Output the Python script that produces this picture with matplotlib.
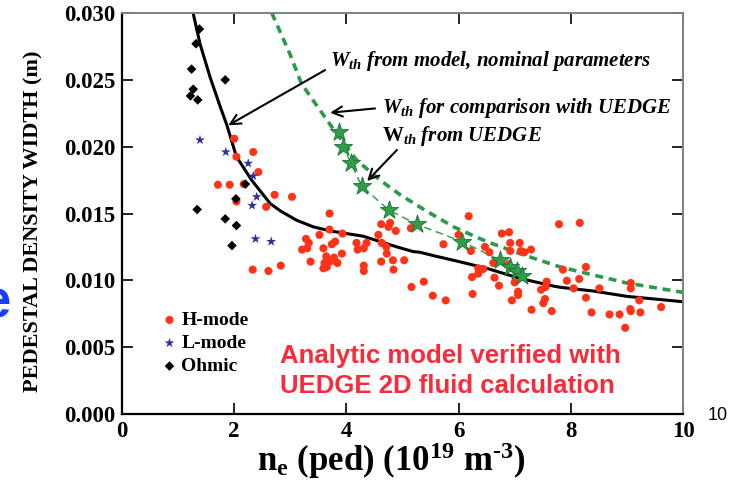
import numpy as np
import matplotlib
matplotlib.use('Agg')
import matplotlib.pyplot as plt

plt.rcParams['font.family'] = ['Liberation Serif', 'DejaVu Serif']
plt.rcParams['font.weight'] = 'bold'
plt.rcParams['mathtext.fontset'] = 'custom'
plt.rcParams['mathtext.rm'] = 'Liberation Serif:bold'
plt.rcParams['mathtext.it'] = 'Liberation Serif:italic:bold'
plt.rcParams['mathtext.bf'] = 'Liberation Serif:bold'

# ---- data (x in 1e19 m^-3, y in mm -> scaled to m below)
hmode_x = [2.00, 2.34, 2.04, 2.43, 1.71, 1.92, 2.17, 2.72, 3.03, 2.04, 2.57, 3.70, 3.28, 3.33, 3.30,
           3.21, 3.52, 3.59, 3.64, 3.36, 3.61, 3.65, 2.33, 2.61, 2.83,
           3.70, 3.93, 3.80, 3.74, 3.92, 3.78, 3.71, 3.59, 3.84, 4.18, 4.36, 4.20, 4.31, 4.57, 4.63,
           4.71, 4.72, 4.62, 4.83, 5.03, 4.31, 4.31, 4.84, 4.62, 4.78, 4.75, 4.88, 5.15, 5.16, 5.38, 5.54,
           6.18, 7.79, 6.00, 6.77, 6.90, 5.73, 6.47, 6.92, 7.09, 6.22, 6.55, 6.92, 7.11, 7.17, 7.29,
           6.62, 6.89, 6.35, 6.44, 6.35, 6.24, 6.64, 6.72, 7.00, 7.57, 7.93, 7.47, 7.06, 7.06, 6.25,
           7.54, 7.51, 6.95, 5.77, 7.30, 7.66, 8.16, 7.55,
           8.27, 7.86, 8.15, 8.05, 8.51, 9.07, 9.07, 8.27, 9.22, 8.37, 8.69, 8.87, 9.06, 9.07, 9.24,
           9.61, 8.97]
hmode_y = [20.6, 19.6, 19.25, 18.1, 17.15, 17.15, 17.2, 16.4, 16.25, 15.9, 15.5, 15.0, 13.1, 12.8, 12.4,
           12.3, 13.4, 12.4, 11.8, 11.4, 11.3, 11.0, 10.8, 10.7, 11.1,
           13.8, 13.5, 12.9, 12.7, 12.0, 11.7, 11.4, 10.9, 11.3, 12.8, 12.8, 12.3, 12.4, 13.4, 12.8,
           12.5, 12.0, 11.4, 11.5, 11.5, 11.1, 10.7, 10.8, 14.2, 14.3, 14.0, 13.7, 13.9, 9.5, 9.9, 8.85,
           14.8, 14.2, 13.4, 13.5, 13.6, 12.7, 12.5, 12.8, 12.8, 12.2, 12.1, 12.2, 12.2, 12.1, 12.3,
           11.3, 11.2, 10.9, 10.85, 10.5, 10.25, 10.2, 9.6, 9.85, 9.9, 9.97, 9.3, 9.15, 8.9, 8.98,
           8.6, 8.3, 8.5, 8.5, 7.8, 7.7, 14.3, 9.5,
           11.0, 10.8, 10.1, 9.4, 9.4, 9.8, 9.4, 8.7, 8.5, 7.6, 7.45, 7.45, 7.85, 7.7, 7.6,
           8.0, 6.45]

lmode_x = [1.39, 1.85, 2.25, 2.34, 2.40, 2.32, 2.38, 2.66]
lmode_y = [20.5, 19.6, 18.75, 17.8, 16.25, 15.6, 13.1, 12.9]

ohmic_x = [1.38, 1.32, 1.24, 1.84, 1.27, 1.22, 1.35, 2.03, 2.20, 1.34, 1.84, 2.04, 1.96]
ohmic_y = [28.8, 27.7, 25.8, 25.0, 24.3, 23.8, 23.5, 16.1, 17.2, 15.3, 14.6, 14.1, 12.6]

uedge_x = [3.87, 3.94, 4.08, 4.27, 4.76, 5.25, 6.06, 6.74, 6.92, 7.04, 7.13]
uedge_y = [21.1, 20.0, 18.8, 17.05, 15.25, 14.2, 12.9, 11.5, 11.0, 10.7, 10.3]

model_x = [1.27, 1.39, 1.57, 1.75, 1.87, 2.04, 2.31, 2.64, 2.82, 3.11, 3.41, 3.71, 4.00, 4.30,
           4.60, 4.90, 5.19, 5.31, 5.60, 5.91, 6.50, 7.09, 7.69, 7.81, 8.40, 9.00, 10.0]
model_y = [29.96, 27.7, 25.2, 23.0, 21.6, 19.25, 17.5, 15.75, 15.2, 14.5, 14.0, 13.7, 13.5, 13.3,
           12.9, 12.5, 12.15, 12.1, 11.8, 11.5, 10.9, 10.15, 9.57, 9.48, 9.2, 8.8, 8.4]

comp_x = [2.67, 2.99, 3.20, 3.77, 4.18, 4.60, 4.96, 5.40, 5.91, 6.50, 7.09, 7.81, 8.40, 9.00, 10.0]
comp_y = [30.0, 26.97, 24.7, 21.3, 19.0, 17.5, 16.4, 15.25, 14.0, 12.9, 12.0, 11.0, 10.4, 9.8, 9.1]

xticks = [0, 2, 4, 6, 8, 10]
yticks = [0.000, 0.005, 0.010, 0.015, 0.020, 0.025, 0.030]

mm = 1e-3
fig = plt.figure(figsize=(7.38, 4.82), dpi=100)
ax = fig.add_axes([122/738, 1-414/482, 561/738, 401/482])

ax.plot(model_x, np.array(model_y)*mm, color='black', lw=2.2, zorder=2)
ax.plot(comp_x, np.array(comp_y)*mm, color='#2a9a4a', lw=2.6, dashes=(2.2, 1.6), zorder=2)
ax.plot(uedge_x, np.array(uedge_y)*mm, color='#3aa055', lw=1.1, dashes=(5, 3), zorder=2)

ax.scatter(hmode_x, np.array(hmode_y)*mm, s=34, color='#ff3318', edgecolors='none', zorder=3, label='H-mode')
ax.scatter(lmode_x, np.array(lmode_y)*mm, s=55, marker='*', color='#30309a', edgecolors='none', zorder=3, label='L-mode')
ax.scatter(ohmic_x, np.array(ohmic_y)*mm, s=24, marker='D', color='black', edgecolors='none', zorder=3, label='Ohmic')
ax.scatter(uedge_x, np.array(uedge_y)*mm, s=190, marker='*', color='#2e9e4a', edgecolors='#1f6e33',
           linewidths=0.6, zorder=4)

ax.set_xlim(0, 10)
ax.set_ylim(0, 0.030)
ax.set_xticks(xticks)
ax.set_xticklabels([str(t) for t in xticks])
ax.set_yticks(yticks)
ax.set_yticklabels(['%.3f' % t for t in yticks])
ax.tick_params(direction='in', length=8, width=1.2, top=True, right=True, labelsize=16.5, pad=5)
for s in ['left', 'bottom']:
    ax.spines[s].set_linewidth(1.6)
for s in ['top', 'right']:
    ax.spines[s].set_color('#808080')
    ax.spines[s].set_linewidth(1.4)

leg = ax.legend(loc='upper left', bbox_to_anchor=(0.05, 0.28), frameon=False, fontsize=14,
                handletextpad=0.1, labelspacing=0.28, handlelength=1.0, borderpad=0)

arr = dict(arrowstyle='->', color='black', lw=1.5, shrinkA=0, shrinkB=0,
           mutation_scale=18)
ax.annotate('', xy=(1.895, 0.0216), xytext=(3.62, 0.02573), arrowprops=arr)
ax.annotate('', xy=(3.71, 0.02254), xytext=(4.51, 0.02286), arrowprops=arr)
ax.annotate('', xy=(4.37, 0.01743), xytext=(4.90, 0.01975), arrowprops=arr)

ax.text(3.71, 0.0264, r'$W_{th}$ from model, nominal parameters', fontsize=15, style='italic',
        fontweight='bold', va='center', ha='left')
ax.text(4.63, 0.02287, r'$W_{th}$ for comparison with UEDGE', fontsize=15, style='italic',
        fontweight='bold', va='center', ha='left')
ax.text(4.63, 0.0208, r'$\mathrm{W}_{th}$ from UEDGE', fontsize=15, style='italic',
        fontweight='bold', va='center', ha='left')

ax.text(2.82, 0.0032, 'Analytic model verified with\nUEDGE 2D fluid calculation', fontsize=18.5,
        family='Liberation Sans', fontweight='bold', color='#fb2a3a', va='center', ha='left',
        linespacing=1.3)

fig.text(33/738, 1-221/482, 'PEDESTAL DENSITY WIDTH (m)', rotation=90, ha='center', va='center',
         fontsize=16, fontweight='bold')
fig.text(391/738, 1-471/482, r'n$_\mathrm{e}$ (ped) (10$^\mathrm{19}$ m$^\text{-3}$)', ha='center',
         va='baseline', fontsize=25, fontweight='bold')
fig.text(708/738, 1-415/482, '10', family='Liberation Sans', fontweight='normal', fontsize=13,
         ha='left', va='center')
fig.text(-0.025, 1-304/482, 'e', family='Liberation Sans', fontweight='bold', fontsize=38,
         color='#1540ff', ha='left', va='center')

fig.savefig('out.png', dpi=100)
